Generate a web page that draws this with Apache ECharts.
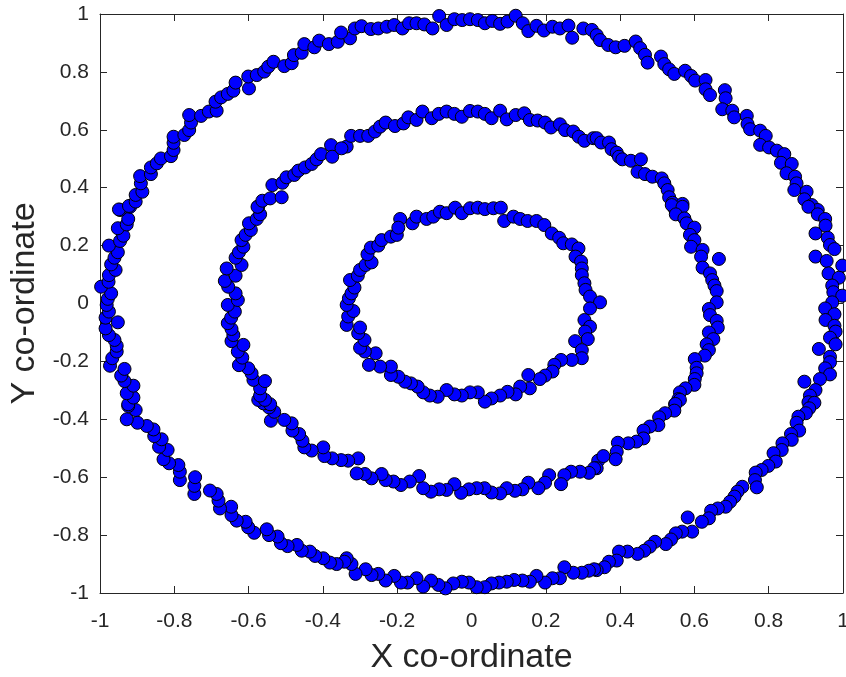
<!DOCTYPE html>
<html>
<head>
<meta charset="utf-8">
<script src="https://cdn.jsdelivr.net/npm/echarts@6/dist/echarts.min.js"></script>
<style>
  html, body { margin: 0; padding: 0; background: #ffffff; }
  #chart { width: 846px; height: 677px; }
</style>
</head>
<body>
<div id="chart"></div>
<script>
// Axis ticks shared by both axes
const tickValues = [-1, -0.8, -0.6, -0.4, -0.2, 0, 0.2, 0.4, 0.6, 0.8, 1];
const tickLabels = ['-1', '-0.8', '-0.6', '-0.4', '-0.2', '0', '0.2', '0.4', '0.6', '0.8', '1'];
const xTitle = 'X co-ordinate';
const yTitle = 'Y co-ordinate';

// Outer ring, radius about 1
const outerRing = [
  [-0.327,0.916],[-0.314,0.950],[-0.296,0.958],[-0.271,0.948],[-0.251,0.950],[-0.228,0.956],[-0.208,0.962],
  [-0.186,0.950],[-0.168,0.968],[-0.148,0.968],[-0.127,0.964],[-0.105,0.950],[-0.087,0.993],[-0.067,0.962],
  [-0.046,0.982],[-0.025,0.979],[-0.004,0.982],[0.017,0.979],[0.036,0.968],[0.056,0.976],[0.077,0.966],
  [0.097,0.974],[0.119,0.994],[0.138,0.968],[0.153,0.941],[0.175,0.959],[0.195,0.943],[0.218,0.956],
  [0.238,0.950],[0.261,0.960],[0.271,0.918],[0.301,0.950],[0.324,0.945],
  [0.337,0.927],[0.346,0.910],[0.368,0.893],[0.388,0.885],[0.412,0.890],[0.442,0.905],[0.454,0.882],
  [0.467,0.859],[0.474,0.832],[0.510,0.853],[0.519,0.827],[0.532,0.809],[0.546,0.793],[0.575,0.804],
  [0.591,0.786],[0.602,0.770],[0.630,0.772],[0.630,0.740],[0.642,0.720],[0.682,0.737],[0.684,0.709],
  [0.675,0.671],[0.702,0.666],[0.707,0.643],[0.741,0.648],[0.743,0.620],[0.750,0.602],[0.777,0.597],
  [0.792,0.579],[0.777,0.548],[0.801,0.539],[0.822,0.528],[0.842,0.516],[0.833,0.486],[0.862,0.482],
  [0.848,0.450],[0.871,0.438],[0.875,0.415],[0.869,0.392],[0.902,0.386],[0.896,0.360],[0.916,0.340],
  [0.932,0.323],
  [0.907,0.334],[0.932,0.308],[0.952,0.292],[0.953,0.269],[0.926,0.242],[0.959,0.227],[0.965,0.202],
  [0.977,0.188],[0.926,0.162],[0.956,0.147],[0.998,0.131],[0.961,0.104],[0.989,0.089],[0.971,0.062],
  [0.974,0.039],[0.998,0.027],[0.971,0.004],[0.952,-0.017],[0.977,-0.037],[0.953,-0.057],[0.977,-0.077],
  [0.980,-0.097],[0.965,-0.118],[0.980,-0.141],[0.935,-0.157],[0.965,-0.184],[0.965,-0.203],[0.952,-0.224],
  [0.965,-0.245],[0.938,-0.261],[0.896,-0.270],[0.926,-0.299],[0.911,-0.318],[0.907,-0.341],
  [0.923,-0.343],[0.909,-0.362],[0.900,-0.379],[0.880,-0.391],[0.875,-0.412],[0.882,-0.439],[0.860,-0.451],
  [0.862,-0.471],[0.837,-0.483],[0.835,-0.506],[0.813,-0.517],[0.819,-0.546],[0.799,-0.561],[0.781,-0.575],
  [0.765,-0.584],[0.763,-0.610],[0.768,-0.635],[0.729,-0.633],[0.716,-0.650],[0.708,-0.667],[0.696,-0.685],
  [0.684,-0.702],[0.663,-0.708],[0.645,-0.716],[0.639,-0.742],[0.620,-0.754],[0.582,-0.739],[0.594,-0.788],
  [0.567,-0.788],[0.550,-0.794],[0.537,-0.815],[0.523,-0.831],[0.494,-0.823],[0.480,-0.840],[0.465,-0.854],
  [0.447,-0.865],[0.420,-0.857],[0.397,-0.857],[0.391,-0.888],[0.370,-0.892],[0.358,-0.911],[0.337,-0.921],
  [0.330,-0.918],[0.316,-0.923],[0.297,-0.930],[0.274,-0.930],[0.250,-0.911],[0.238,-0.949],[0.218,-0.949],
  [0.198,-0.964],[0.175,-0.941],[0.157,-0.961],[0.137,-0.957],[0.115,-0.955],[0.095,-0.961],[0.074,-0.964],
  [0.054,-0.967],[0.036,-0.980],[0.014,-0.980],[-0.007,-0.964],[-0.026,-0.961],[-0.049,-0.967],[-0.070,-0.984],
  [-0.089,-0.972],[-0.109,-0.957],[-0.130,-0.978],[-0.148,-0.949],[-0.172,-0.964],[-0.190,-0.964],[-0.208,-0.941],
  [-0.231,-0.957],[-0.251,-0.934],[-0.269,-0.938],[-0.285,-0.918],[-0.312,-0.934],[-0.323,-0.900],[-0.336,-0.880],
  [-0.342,-0.892],[-0.363,-0.900],[-0.381,-0.895],[-0.399,-0.880],[-0.421,-0.872],[-0.435,-0.857],[-0.457,-0.854],
  [-0.470,-0.834],[-0.495,-0.838],[-0.513,-0.828],[-0.522,-0.805],[-0.545,-0.800],[-0.551,-0.780],[-0.585,-0.792],
  [-0.601,-0.773],[-0.608,-0.754],[-0.632,-0.750],[-0.646,-0.731],[-0.647,-0.702],[-0.677,-0.708],[-0.681,-0.681],
  [-0.686,-0.658],[-0.704,-0.646],[-0.746,-0.658],[-0.746,-0.630],[-0.744,-0.600],[-0.785,-0.610],[-0.785,-0.581],
  [-0.789,-0.558],[-0.814,-0.552],[-0.829,-0.538],[-0.818,-0.506],[-0.841,-0.495],[-0.834,-0.469],[-0.854,-0.458],
  [-0.856,-0.435],[-0.874,-0.423],[-0.899,-0.412],[-0.928,-0.400],[-0.904,-0.368],[-0.924,-0.354],
  [-0.924,-0.348],[-0.910,-0.325],[-0.928,-0.310],[-0.910,-0.284],[-0.934,-0.268],[-0.943,-0.249],[-0.934,-0.226],
  [-0.973,-0.215],[-0.967,-0.189],[-0.955,-0.166],[-0.955,-0.146],[-0.961,-0.126],[-0.976,-0.109],[-0.985,-0.086],
  [-0.952,-0.065],[-0.985,-0.049],[-0.976,-0.028],[-0.982,-0.005],[-0.979,0.016],[-0.970,0.035],[-0.997,0.058],
  [-0.977,0.075],[-0.976,0.098],[-0.958,0.116],[-0.970,0.135],[-0.961,0.158],[-0.952,0.177],[-0.976,0.200],
  [-0.946,0.216],[-0.937,0.234],[-0.952,0.260],[-0.928,0.273],[-0.924,0.292],[-0.919,0.334],[-0.946,0.323],
  [-0.949,0.325],[-0.922,0.337],[-0.904,0.352],[-0.904,0.375],[-0.886,0.386],[-0.890,0.415],[-0.892,0.440],
  [-0.863,0.447],[-0.863,0.470],[-0.847,0.484],[-0.836,0.501],[-0.809,0.509],[-0.802,0.530],[-0.802,0.555],
  [-0.802,0.576],[-0.773,0.582],[-0.760,0.599],[-0.755,0.625],[-0.760,0.651],[-0.728,0.648],[-0.707,0.663],
  [-0.686,0.666],[-0.689,0.697],[-0.674,0.712],[-0.656,0.724],[-0.641,0.735],[-0.635,0.763],[-0.599,0.743],
  [-0.601,0.784],[-0.578,0.789],[-0.558,0.801],[-0.547,0.818],[-0.533,0.835],[-0.504,0.820],[-0.484,0.830],
  [-0.478,0.858],[-0.457,0.866],[-0.450,0.896],[-0.423,0.885],[-0.410,0.908],[-0.384,0.896],[-0.360,0.904],
  [-0.351,0.936]
];

// Middle ring, radius about 0.63
const middleRing = [
  [-0.336,0.542],[-0.324,0.579],[-0.300,0.579],[-0.278,0.579],[-0.260,0.594],[-0.246,0.611],[-0.231,0.625],
  [-0.206,0.613],[-0.183,0.622],[-0.170,0.643],[-0.148,0.634],[-0.132,0.663],[-0.107,0.640],[-0.088,0.655],
  [-0.067,0.663],[-0.046,0.655],[-0.026,0.645],[-0.004,0.665],[0.017,0.663],[0.036,0.655],[0.054,0.640],
  [0.077,0.666],[0.095,0.636],[0.119,0.651],[0.142,0.657],[0.157,0.634],[0.178,0.632],[0.198,0.625],
  [0.214,0.608],[0.238,0.619],[0.252,0.599],[0.274,0.594],[0.289,0.576],[0.304,0.562],[0.328,0.571],
  [0.337,0.571],[0.349,0.556],[0.370,0.556],[0.377,0.533],[0.391,0.521],[0.397,0.507],[0.406,0.498],
  [0.429,0.493],[0.456,0.498],[0.447,0.455],[0.467,0.447],[0.487,0.438],[0.512,0.432],[0.519,0.415],
  [0.528,0.392],[0.532,0.367],[0.541,0.348],[0.568,0.344],[0.548,0.325],
  [0.539,0.340],[0.568,0.334],[0.550,0.308],[0.573,0.294],[0.579,0.277],[0.600,0.262],[0.588,0.237],
  [0.600,0.219],[0.591,0.196],[0.622,0.185],[0.618,0.162],[0.666,0.154],[0.622,0.124],[0.642,0.104],
  [0.648,0.081],[0.654,0.062],[0.660,0.043],[0.660,0.004],[0.639,-0.019],[0.642,-0.040],[0.660,-0.060],
  [0.663,-0.083],[0.639,-0.100],[0.651,-0.123],[0.633,-0.141],[0.639,-0.161],[0.628,-0.180],[0.601,-0.192],
  [0.606,-0.222],[0.606,-0.241],[0.601,-0.261],[0.600,-0.281],[0.576,-0.293],[0.561,-0.307],[0.557,-0.330],
  [0.548,-0.348],
  [0.561,-0.333],[0.549,-0.347],[0.546,-0.370],[0.521,-0.379],[0.505,-0.393],[0.503,-0.420],[0.480,-0.425],
  [0.463,-0.439],[0.463,-0.466],[0.444,-0.477],[0.422,-0.483],[0.394,-0.481],[0.391,-0.512],[0.388,-0.538],
  [0.341,-0.543],[0.355,-0.527],[0.337,-0.569],
  [0.330,-0.569],[0.316,-0.585],[0.292,-0.581],[0.268,-0.581],[0.250,-0.593],[0.241,-0.624],[0.209,-0.593],
  [0.198,-0.619],[0.180,-0.638],[0.153,-0.619],[0.137,-0.642],[0.117,-0.647],[0.095,-0.638],[0.077,-0.656],
  [0.054,-0.653],[0.035,-0.638],[0.014,-0.638],[-0.007,-0.642],[-0.028,-0.654],[-0.046,-0.624],[-0.067,-0.644],
  [-0.087,-0.642],[-0.109,-0.650],[-0.130,-0.638],[-0.141,-0.596],[-0.166,-0.615],[-0.190,-0.627],[-0.210,-0.615],
  [-0.231,-0.610],[-0.242,-0.589],[-0.269,-0.604],[-0.287,-0.589],[-0.309,-0.587],[-0.305,-0.535],[-0.332,-0.543],
  [-0.351,-0.541],[-0.375,-0.535],[-0.396,-0.527],[-0.399,-0.497],[-0.430,-0.508],[-0.450,-0.497],[-0.455,-0.474],
  [-0.464,-0.451],[-0.482,-0.439],[-0.484,-0.414],[-0.504,-0.402],[-0.540,-0.405],[-0.531,-0.374],[-0.545,-0.359],
  [-0.560,-0.345],[-0.574,-0.333],
  [-0.542,-0.348],[-0.556,-0.333],[-0.569,-0.318],[-0.569,-0.293],[-0.587,-0.264],[-0.556,-0.268],[-0.592,-0.241],
  [-0.601,-0.224],[-0.626,-0.213],[-0.617,-0.187],[-0.629,-0.166],[-0.614,-0.143],[-0.646,-0.130],[-0.641,-0.109],
  [-0.646,-0.088],[-0.656,-0.068],[-0.647,-0.049],[-0.637,-0.028],[-0.656,-0.005],[-0.629,0.012],[-0.635,0.035],
  [-0.655,0.058],[-0.664,0.078],[-0.635,0.096],[-0.659,0.121],[-0.619,0.133],[-0.635,0.158],[-0.626,0.177],
  [-0.614,0.196],[-0.619,0.219],[-0.608,0.237],[-0.594,0.254],[-0.599,0.277],[-0.578,0.292],[-0.569,0.308],
  [-0.574,0.335],
  [-0.576,0.334],[-0.563,0.355],[-0.542,0.363],[-0.536,0.409],[-0.511,0.367],[-0.509,0.417],[-0.498,0.436],
  [-0.477,0.444],[-0.466,0.459],[-0.448,0.470],[-0.430,0.482],[-0.417,0.498],[-0.405,0.516],[-0.378,0.547],
  [-0.375,0.507],[-0.350,0.536]
];

// Inner ring, radius about 0.32
const innerRing = [
  [-0.192,0.292],[-0.159,0.277],[-0.148,0.300],[-0.121,0.292],[-0.103,0.300],[-0.085,0.317],[-0.067,0.312],
  [-0.044,0.331],[-0.026,0.312],[-0.004,0.329],[0.017,0.331],[0.036,0.326],[0.059,0.329],[0.079,0.331],
  [0.088,0.285],[0.113,0.300],[0.131,0.292],[0.151,0.285],[0.175,0.285],[0.196,0.271],[0.216,0.242],
  [0.236,0.227],[0.247,0.208],[0.270,0.204],[0.288,0.190],[0.280,0.162],[0.295,0.145],[0.297,0.121],
  [0.297,0.098],[0.304,0.070],[0.307,0.047],[0.319,0.024],[0.346,0.004],[0.319,-0.017],[0.304,-0.057],
  [0.319,-0.080],[0.306,-0.097],[0.313,-0.123],[0.279,-0.130],[0.297,-0.161],[0.297,-0.189],[0.270,-0.195],
  [0.241,-0.195],[0.223,-0.212],[0.218,-0.235],[0.198,-0.249],[0.184,-0.261],[0.153,-0.247],[0.157,-0.293],
  [0.131,-0.287],[0.119,-0.314],[0.097,-0.305],[0.077,-0.318],[0.054,-0.328],[0.036,-0.339],[0.017,-0.307],
  [-0.004,-0.307],[-0.026,-0.318],[-0.046,-0.314],[-0.067,-0.299],[-0.091,-0.322],[-0.112,-0.318],[-0.130,-0.307],
  [-0.145,-0.287],[-0.163,-0.276],[-0.179,-0.270],[-0.197,-0.253],[-0.217,-0.247],[-0.217,-0.218],[-0.246,-0.218],
  [-0.276,-0.212],[-0.258,-0.172],[-0.287,-0.166],[-0.300,-0.153],[-0.288,-0.126],[-0.305,-0.103],[-0.300,-0.083],
  [-0.336,-0.074],[-0.332,-0.045],[-0.318,-0.026],[-0.336,-0.005],[-0.330,0.018],[-0.323,0.035],[-0.315,0.055],
  [-0.327,0.081],[-0.306,0.096],[-0.300,0.116],[-0.285,0.133],[-0.269,0.142],[-0.280,0.170],[-0.271,0.193],
  [-0.251,0.200],[-0.242,0.219],[-0.217,0.231],[-0.201,0.237],[-0.197,0.262]
];

const points = outerRing.concat(middleRing, innerRing);

const fontFamily = "'Liberation Sans', Arial, Helvetica, sans-serif";
const axisColor = '#262626';

function labelFor(v) {
  const i = tickValues.findIndex(t => Math.abs(t - v) < 1e-9);
  return i >= 0 ? tickLabels[i] : '';
}

const frameAxisCommon = {
  type: 'value',
  min: -1,
  max: 1,
  interval: 0.2,
  axisLine: { show: true, onZero: false, lineStyle: { color: axisColor, width: 1 } },
  axisTick: { show: true, inside: true, length: 7, lineStyle: { color: axisColor, width: 1 } },
  splitLine: { show: false }
};

const chart = echarts.init(document.getElementById('chart'), null, { renderer: 'canvas' });
chart.setOption({
  animation: false,
  backgroundColor: '#ffffff',
  grid: { left: 100, right: 3, top: 14, bottom: 84, containLabel: false, outerBoundsMode: 'none' },
  xAxis: [
    Object.assign({}, frameAxisCommon, {
      position: 'bottom',
      name: xTitle,
      nameLocation: 'middle',
      nameGap: 48,
      nameTextStyle: { fontFamily: fontFamily, fontSize: 34, color: axisColor },
      axisLabel: {
        show: true, margin: 18, fontFamily: fontFamily, fontSize: 21, color: axisColor,
        formatter: labelFor
      }
    }),
    Object.assign({}, frameAxisCommon, {
      position: 'top',
      axisLabel: { show: false }
    })
  ],
  yAxis: [
    Object.assign({}, frameAxisCommon, {
      position: 'left',
      name: yTitle,
      nameLocation: 'middle',
      nameGap: 56,
      nameRotate: 90,
      nameTextStyle: { fontFamily: fontFamily, fontSize: 34, color: axisColor },
      axisLabel: {
        show: true, margin: 11, fontFamily: fontFamily, fontSize: 21, color: axisColor,
        formatter: labelFor
      }
    }),
    Object.assign({}, frameAxisCommon, {
      position: 'right',
      axisLabel: { show: false }
    })
  ],
  series: [{
    type: 'scatter',
    xAxisIndex: 0,
    yAxisIndex: 0,
    data: points,
    clip: false,
    symbol: 'circle',
    symbolSize: 13,
    itemStyle: { color: '#0000ff', borderColor: '#000000', borderWidth: 1, opacity: 1 },
    emphasis: { disabled: true }
  }]
});
</script>
</body>
</html>
